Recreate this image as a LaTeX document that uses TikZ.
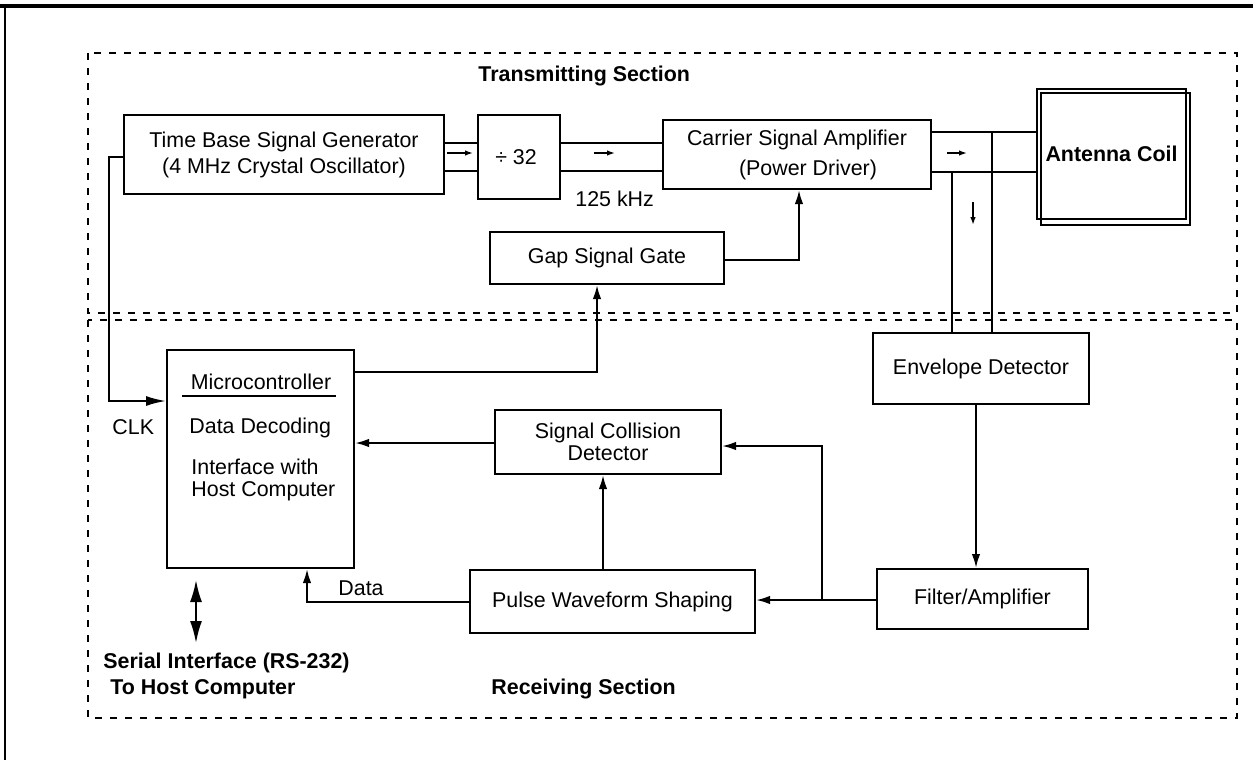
\documentclass[tikz,border=0pt]{standalone}
\usepackage{fontspec}
\setmainfont{Liberation Sans}
\usetikzlibrary{arrows.meta,calc}
\begin{document}
\begin{tikzpicture}[x=0.5pt,y=-0.5pt,
  font=\fontsize{10.7}{12.5}\selectfont,
  box/.style={draw, line width=1pt, inner sep=0pt, align=center},
  wire/.style={line width=1pt},
  arr/.style={line width=1pt, -{Latex[length=7pt,width=4.2pt]}},
  bigarr/.style={line width=1pt, -{Latex[length=10pt,width=5pt]}},
  darr/.style={line width=1pt, {Latex[length=11pt,width=6pt]}-{Latex[length=11pt,width=6pt]}},
  tinyarr/.style={line width=1pt, -{Latex[length=4pt,width=2.8pt]}},
  txt/.style={inner sep=0pt, anchor=west},
  boldtxt/.style={inner sep=0pt, anchor=west, font=\fontsize{10.7}{13}\selectfont\bfseries},
  section/.style={line width=0.8pt, dash pattern=on 3.5pt off 4pt}]
\useasboundingbox (0,0) rectangle (1253,760);

% page frame
\draw[line width=1.6pt] (0,6) -- (1253,6);
\draw[line width=1pt] (5,6) -- (5,760);

% section outlines
\draw[section] (88,53) rectangle (1237,313);
\draw[section] (88,320) rectangle (1237,718);
\node[boldtxt] (tsec) at (478,76) {Transmitting Section};
\node[boldtxt] (rsec) at (491,689) {Receiving Section};

% blocks
\node[box, minimum width=160pt, minimum height=39.5pt] (tbsg) at (284,154.5)
  {Time Base Signal Generator\\[0.5pt](4 MHz Crystal Oscillator)};
\node[box, minimum width=41pt, minimum height=42pt] (div) at (519,157) {\hspace{-3pt}÷ 32};
\node[box, minimum width=134pt, minimum height=34.5pt, font=\fontsize{10.7}{15}\selectfont] (csa) at (797,154.5)
  {Carrier Signal Amplifier\\\hspace{11pt}(Power Driver)};
\node[box, minimum width=74.5pt, minimum height=65pt, font=\fontsize{10.7}{13}\selectfont\bfseries] (ant) at (1111.5,154) {Antenna Coil};
\draw[line width=1pt] (1041,93) rectangle (1190,225);
\node[box, minimum width=117pt, minimum height=26pt] (gap) at (607,258) {Gap Signal Gate};
\node[box, minimum width=108pt, minimum height=35.5pt] (env) at (981,368.5) {Envelope Detector};
\node[box, minimum width=105.5pt, minimum height=30pt] (filt) at (982.5,599) {Filter/Amplifier};
\node[box, minimum width=113pt, minimum height=32pt, font=\fontsize{10.7}{11}\selectfont] (scd) at (608,442)
  {Signal Collision\\Detector};
\node[box, minimum width=142.5pt, minimum height=31.5pt] (pws) at (612.5,601.5) {Pulse Waveform Shaping};
\node[box, minimum width=93.5pt, minimum height=109pt] (micro) at (260.5,459) {};

% microcontroller contents
\node[inner sep=0pt] (mctitle) at (261,382) {Microcontroller};
\draw[wire] (182,396) -- (336,396);
\node[txt] (mdec) at (189,428) {Data Decoding};
\node[txt] (mif1) at (191,467) {Interface with};
\node[txt] (mif2) at (191,491) {Host Computer};

% labels
\node[txt] (khz) at (575,199) {125 kHz};
\node[txt] (clk) at (112,427) {CLK};
\node[txt] (data) at (338,588) {Data};
\node[boldtxt, align=left] (serial) at (103,676) {Serial Interface (RS-232)\\\hspace{3.5pt}To Host Computer};

% transmitting connectors
\draw[wire] (tbsg.east |- 0,143) -- (div.west |- 0,143);
\draw[wire] (tbsg.east |- 0,171) -- (div.west |- 0,171);
\draw[wire] (div.east |- 0,143) -- (csa.west |- 0,143);
\draw[wire] (div.east |- 0,171) -- (csa.west |- 0,171);
\draw[wire] (csa.east |- 0,132) -- (ant.west |- 0,132);
\draw[wire] (csa.east |- 0,172) -- (ant.west |- 0,172);
\draw[wire] (952,172) -- (env.north -| 952,0);
\draw[wire] (992,132) -- (env.north -| 992,0);
\coordinate (a1s) at (447,153); \coordinate (a1e) at (473,153);
\coordinate (a2s) at (594,153); \coordinate (a2e) at (615,153);
\coordinate (a3s) at (947,153); \coordinate (a3e) at (967,153);
\coordinate (a4s) at (973,202); \coordinate (a4e) at (973,225);
\draw[tinyarr] (a1s) -- (a1e);
\draw[tinyarr] (a2s) -- (a2e);
\draw[tinyarr] (a3s) -- (a3e);
\draw[tinyarr] (a4s) -- (a4e);
\draw[arr] (gap.east |- 0,260) -| (csa.south -| 799,0);

% clock and control
\draw[bigarr] (tbsg.west |- 0,157) -| (109,401) -- (micro.west |- 0,401);
\draw[arr] (micro.east |- 0,372) -| (gap.south -| 597,0);

% receiving connectors
\draw[arr] (env.south -| 976,0) -- (filt.north -| 976,0);
\draw[arr] (filt.west |- 0,600) -- (pws.east |- 0,600);
\coordinate (br) at (822,600);
\draw[arr] (br) |- (scd.east |- 0,446);
\draw[arr] (pws.north -| 603,0) -- (scd.south -| 603,0);
\draw[arr] (scd.west |- 0,443) -- (micro.east |- 0,443);
\draw[arr] (pws.west |- 0,602) -| (micro.south -| 307,0);

% serial interface
\coordinate (s1) at (196,580); \coordinate (s2) at (196,643);
\draw[darr] (s1) -- (s2);
\end{tikzpicture}
\end{document}
